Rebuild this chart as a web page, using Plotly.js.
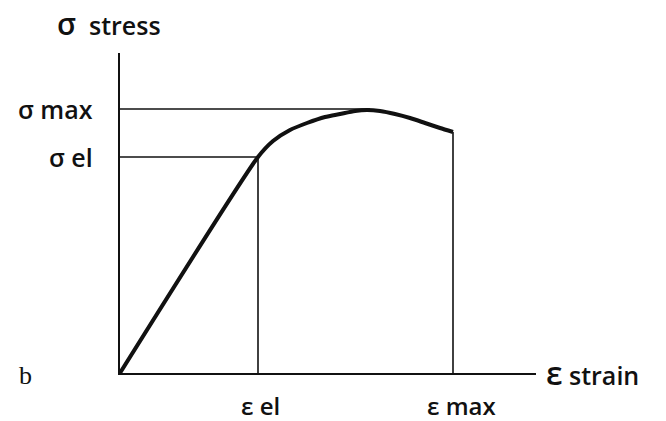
<!DOCTYPE html>
<html>
<head>
<meta charset="utf-8">
<script src="https://cdn.plot.ly/plotly-3.0.1.min.js"></script>
<style>
  html, body { margin: 0; padding: 0; background: #fff; }
  #chart { width: 666px; height: 421px; }
</style>
</head>
<body>
<div id="chart"></div>
<script>
// Stress-strain curve (arbitrary units): elastic line, then plastic hump up to failure
const strain = [0, 138, 153, 170, 187, 205, 220, 235, 247, 260, 275, 290, 305, 320, 333];
const stress = [0, 216, 232, 243, 250, 256, 259, 262, 263, 262, 259, 255, 250, 245, 241];

// Characteristic points
const strainEl = 138, stressEl = 216;
const strainMax = 333, stressMax = 264, strainAtMax = 250;
const stressAtFailure = 241;

// Labels
const yLabels = ["σ max", "σ el"];
const xLabels = ["ε el", "ε max"];

const ink = "#111";
const thin = { color: ink, width: 1.6 };
const font = { family: "Open Sans, DejaVu Sans, sans-serif", size: 25, color: ink, weight: 600 };
const xFont = Object.assign({}, font, { size: 24 });

const traces = [
  { x: [0, strainEl], y: [stressEl, stressEl], mode: "lines", line: thin },
  { x: [0, strainAtMax], y: [stressMax, stressMax], mode: "lines", line: thin },
  { x: [strainEl, strainEl], y: [0, stressEl], mode: "lines", line: thin },
  { x: [strainMax, strainMax], y: [0, stressAtFailure], mode: "lines", line: thin },
  { x: strain, y: stress, mode: "lines", line: { color: ink, width: 4, shape: "spline", smoothing: 0.6 } }
];

const annotations = [
  { xref: "x", yref: "y", x: 0, y: stressMax, text: yLabels[0], showarrow: false,
    xanchor: "right", yanchor: "middle", xshift: -25, font: font },
  { xref: "x", yref: "y", x: 0, y: stressEl, text: yLabels[1], showarrow: false,
    xanchor: "right", yanchor: "middle", xshift: -25, font: font },
  { xref: "x", yref: "y", x: strainEl, y: 0, text: xLabels[0], showarrow: false,
    xanchor: "center", yanchor: "middle", yshift: -32, xshift: 2, borderpad: 0, font: xFont },
  { xref: "x", yref: "y", x: strainMax, y: 0, text: xLabels[1], showarrow: false,
    xanchor: "center", yanchor: "middle", yshift: -32, xshift: 8, borderpad: 0, font: xFont },
  { xref: "paper", yref: "paper", x: 0, y: 1, text: '<span style="font-size:30px">σ</span>  stress',
    showarrow: false, xanchor: "left", yanchor: "middle", xshift: -65, yshift: 30, font: font },
  { xref: "paper", yref: "y", x: 1, y: 0, text: '<span style="font-size:32px">ε</span> strain',
    showarrow: false, xanchor: "left", yanchor: "middle", xshift: 8, yshift: 1, font: font },
  { xref: "paper", yref: "y", x: 0, y: 0, text: "b", showarrow: false,
    xanchor: "left", yanchor: "middle", xshift: -103, yshift: -2,
    font: { family: "Liberation Serif, serif", size: 26, color: ink } }
];

const axisBase = {
  showline: true, linecolor: ink, linewidth: 2, showgrid: false, zeroline: false,
  showticklabels: false, ticks: "", fixedrange: true
};

const layout = {
  width: 666, height: 421,
  margin: { l: 120, r: 130, t: 53, b: 48 },
  paper_bgcolor: "#fff", plot_bgcolor: "#fff",
  showlegend: false,
  xaxis: Object.assign({}, axisBase, { range: [0, 416] }),
  yaxis: Object.assign({}, axisBase, { range: [0, 320] }),
  annotations: annotations
};

Plotly.newPlot("chart", traces, layout, { displayModeBar: false, staticPlot: true });
</script>
</body>
</html>
